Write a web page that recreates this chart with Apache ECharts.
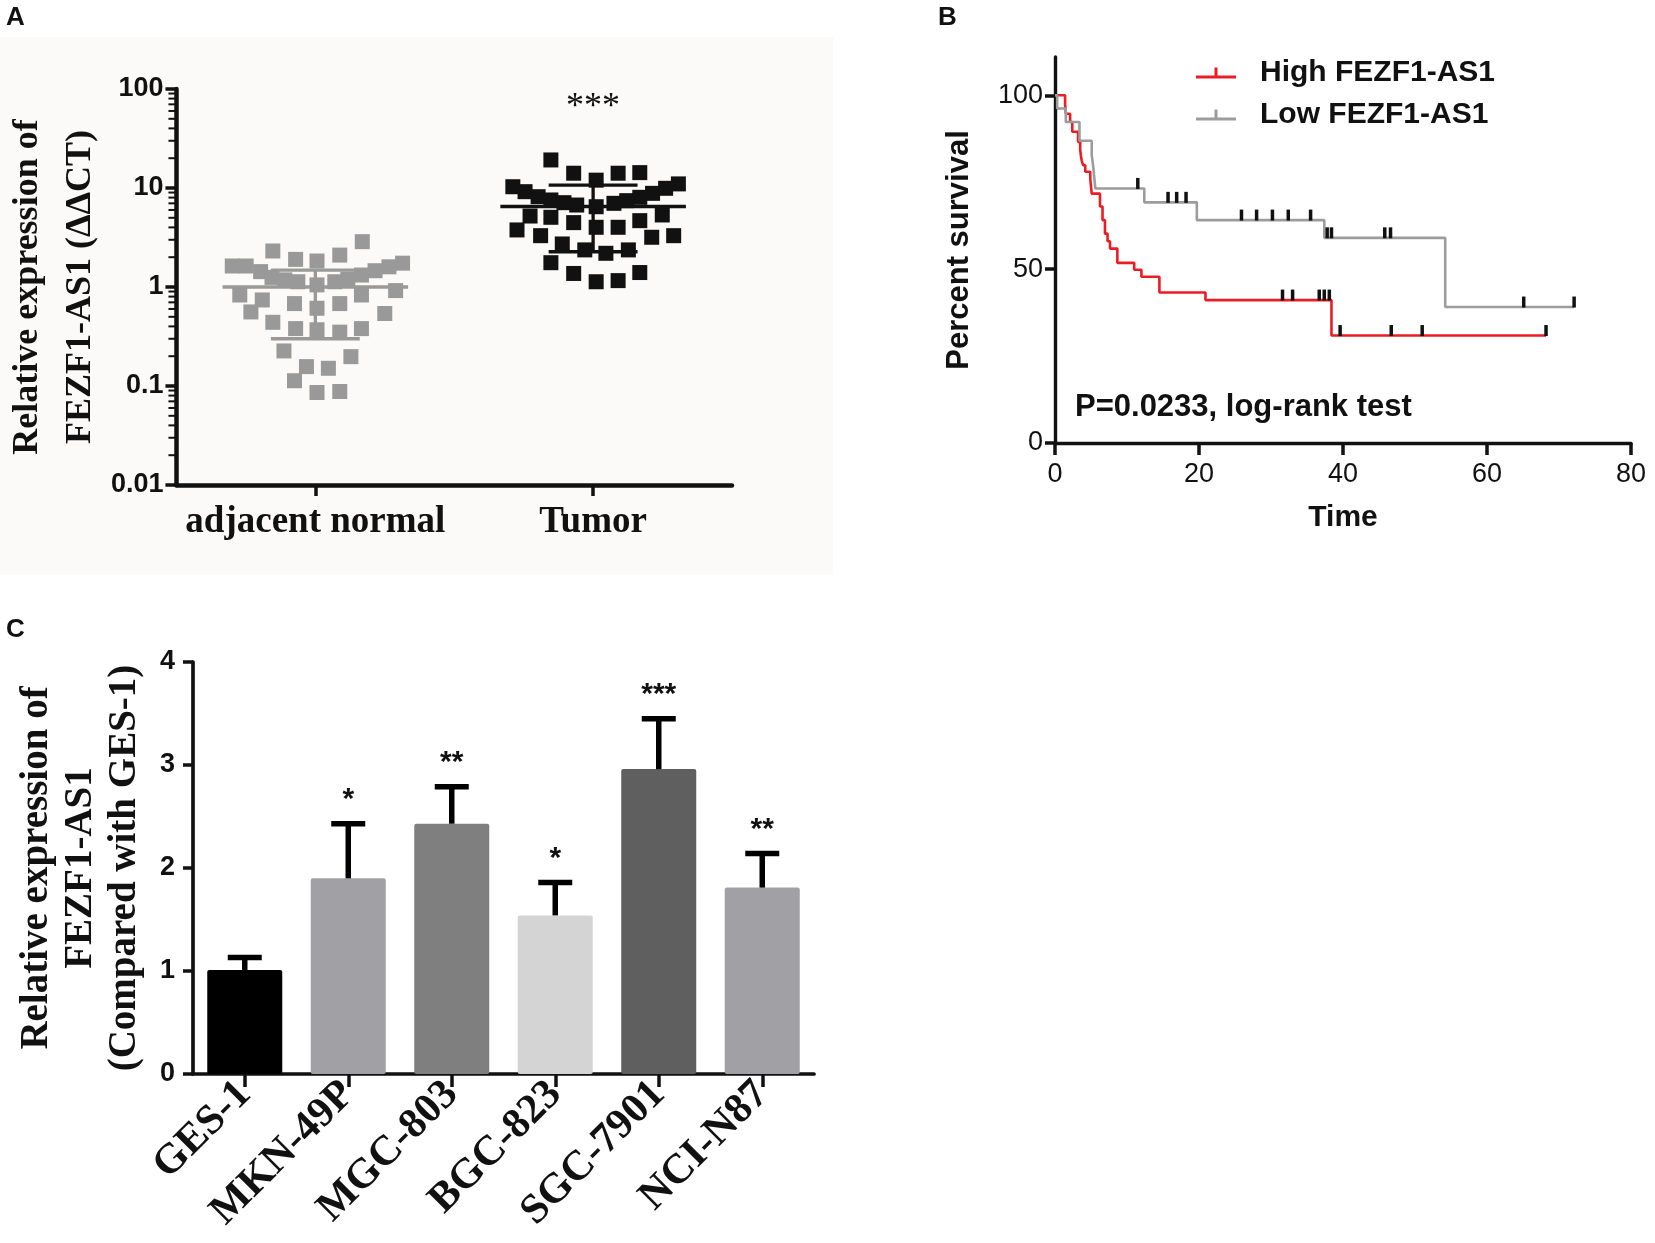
<!DOCTYPE html>
<html>
<head>
<meta charset="utf-8"/>
<title>FEZF1-AS1 expression</title>
<script src="https://cdn.jsdelivr.net/npm/echarts@6/dist/echarts.min.js"></script>
<style>
    html, body { margin: 0; padding: 0; background: #ffffff; }
    #main { width: 1655px; height: 1243px; }
</style>
</head>
<body>
<div id="main"></div>
<script>
// ---------------- panel A : scatter on log scale ----------------
var groupsA = ['adjacent normal', 'Tumor'];
var normalJitter = [0.169, -0.153, -0.071, 0.006, 0.088, -0.299, -0.249, -0.197, -0.156, -0.110, -0.063, 0.006,
    0.314, 0.265, 0.215, 0.166, 0.117, 0.070, -0.272, -0.191, -0.075, 0.006, 0.088, 0.166, 0.289, -0.232, 0.250,
    -0.153, -0.071, 0.006, 0.088, 0.166, -0.113, 0.128, -0.032, 0.047, -0.075, 0.006, 0.088];
var normalVal = [2.87, 2.31, 1.90, 1.83, 2.10, 1.63, 1.63, 1.43, 1.25, 1.18, 1.13, 1.05,
    1.74, 1.60, 1.46, 1.32, 1.20, 1.13, 0.83, 0.74, 0.68, 0.61, 0.68, 0.83, 0.92, 0.56, 0.54,
    0.44, 0.38, 0.37, 0.35, 0.38, 0.226, 0.198, 0.157, 0.151, 0.113, 0.086, 0.088];
var tumorJitter = [-0.152, -0.070, 0.011, 0.090, 0.168, -0.289, -0.245, -0.198, -0.152, -0.105, -0.059, 0.011,
    0.075, 0.121, 0.168, 0.214, 0.261, 0.307, -0.227, -0.152, -0.070, 0.011, 0.090, 0.168, 0.249, -0.274, -0.189,
    0.211, 0.290, -0.111, -0.030, 0.046, 0.127, -0.152, -0.070, 0.011, 0.090, 0.168];
var tumorVal = [19.2, 14.1, 12.0, 14.1, 14.3, 10.3, 9.18, 8.17, 7.57, 7.11, 6.73, 6.47,
    7.0, 7.45, 8.05, 8.83, 9.93, 11.0, 5.21, 5.06, 4.47, 4.01, 4.01, 4.68, 5.34, 3.77, 3.30,
    3.18, 3.30, 2.72, 2.37, 2.19, 2.37, 1.76, 1.37, 1.13, 1.16, 1.40];
var centreA = [1.0, 6.5];
var lowerA = [0.30, 2.27];
var upperA = [1.48, 10.7];
var sigA = ['', '***'];
var ticksA = [0.01, 0.1, 1, 10, 100];

// ---------------- panel B : Kaplan-Meier ----------------
var highTime = [1.4, 1.5, 2.1, 2.4, 3.2, 3.5, 3.6, 3.7, 3.9, 4.2, 4.9, 5.0, 5.1, 6.25, 6.6, 6.94, 7.3, 7.64, 8.66,
    11.0, 12.0, 14.5, 20.9, 38.4];
var highSurv = [97.5, 94.7, 92.3, 89.5, 86.6, 84.3, 82.6, 81.3, 79.9, 78.0, 76.0, 73.7, 71.7, 68.0, 64.1, 60.2, 58.0,
    55.9, 51.8, 49.8, 47.8, 43.3, 41.1, 30.9];
var highCensor = [31.6, 33.0, 36.7, 37.4, 38.1, 39.6, 46.7, 51.0, 68.2];
var highEnd = 68.2;
var lowTime = [0.3, 1.5, 3.4, 5.1, 5.3, 5.45, 5.6, 12.4, 19.7, 37.4, 54.2];
var lowSurv = [96.2, 92.3, 86.9, 82.8, 79.6, 76.4, 73.2, 69.2, 64.1, 59.0, 39.1];
var lowCensor = [11.5, 15.7, 16.9, 18.2, 25.9, 28.0, 30.2, 32.4, 35.5, 37.8, 38.4, 45.8, 46.6, 65.1, 72.1];
var lowEnd = 72.1;
var ticksB = [0, 50, 100];

// ---------------- panel C : bars ----------------
var cellLines = ['GES-1', 'MKN-49P', 'MGC-803', 'BGC-823', 'SGC-7901', 'NCI-N87'];
var cellMean = [1.01, 1.90, 2.43, 1.54, 2.96, 1.81];
var cellErr = [0.12, 0.53, 0.36, 0.32, 0.49, 0.33];
var cellSig = ['', '*', '**', '*', '***', '**'];
var cellColors = ['#000000', '#a1a1a5', '#7f7f7f', '#d4d4d4', '#5f5f5f', '#a1a1a5'];

var SERIF = '"Liberation Serif", "Times New Roman", serif';
var SANS = '"Liberation Sans", Arial, sans-serif';
var INK = '#111111';
var statsColors = ['#999999', INK];

// minor ticks of the log axis: 2..9 inside every decade
var minorA = [];
for (var d = 0; d < ticksA.length - 1; d++) {
    for (var k = 2; k <= 9; k++) {
        minorA.push([0.5, ticksA[d] * k]);
    }
}

function scatterData(jitter, vals, centre) {
    var out = [];
    for (var i = 0; i < vals.length; i++) out.push([centre + jitter[i], vals[i]]);
    return out;
}

// mean line, spread and highest point for each group of panel A
var statsA = [];
for (var g = 0; g < groupsA.length; g++) {
    var groupMax = Math.max.apply(null, g === 0 ? normalVal : tumorVal);
    statsA.push([g + 1, centreA[g], lowerA[g], upperA[g], groupMax]);
}

function kmLine(times, surv, end) {
    var pts = [[0, 100]];
    for (var i = 0; i < times.length; i++) pts.push([times[i], surv[i]]);
    pts.push([end, surv[surv.length - 1]]);
    return pts;
}

// survival of the curve at time t (value of the last step at or before t)
function survivalAt(times, surv, t) {
    var s = 100;
    for (var i = 0; i < times.length; i++) if (times[i] <= t) s = surv[i];
    return s;
}

function censorData(cens, times, surv) {
    return cens.map(function (t) { return [t, survivalAt(times, surv, t)]; });
}

function axLine(w) { return { show: true, onZero: false, lineStyle: { color: INK, width: w } }; }
function axTick(len) { return { show: true, length: len, lineStyle: { color: INK, width: 3.5 } }; }

var option = {
    backgroundColor: '#ffffff',
    animation: false,
    title: [
        { text: 'A', left: 6, top: 5, padding: 0, textStyle: { fontFamily: SANS, fontWeight: 'bold', fontSize: 26, color: INK } },
        { text: 'B', left: 938, top: 5, padding: 0, textStyle: { fontFamily: SANS, fontWeight: 'bold', fontSize: 26, color: INK } },
        { text: 'C', left: 6, top: 617, padding: 0, textStyle: { fontFamily: SANS, fontWeight: 'bold', fontSize: 26, color: INK } },
        { text: 'P=0.0233, log-rank test', left: 1075, top: 391, padding: 0,
          textStyle: { fontFamily: SANS, fontWeight: 'bold', fontSize: 31, lineHeight: 32, color: INK } }
    ],
    graphic: [
        { type: 'rect', left: 0, top: 37, z: -10, silent: true,
          shape: { width: 833, height: 538 }, style: { fill: '#fbfaf8' } }
    ],
    legend: {
        data: ['High FEZF1-AS1', 'Low FEZF1-AS1'],
        orient: 'vertical', left: 1196, top: 58, padding: 0,
        itemWidth: 40, itemHeight: 11, itemGap: 12,
        icon: 'path://M0,8h40v3H0z M18.5,0h3v8h-3z',
        textStyle: { fontFamily: SANS, fontWeight: 'bold', fontSize: 30, lineHeight: 30, color: INK, padding: [0, 0, 0, 19] },
        selectedMode: false
    },
    grid: [
        { left: 153, top: 89, width: 579, height: 396 },
        { left: 1055, top: 57, width: 576, height: 386 },
        { left: 193, top: 662, width: 621, height: 412 }
    ],
    xAxis: [
        {
            gridIndex: 0, type: 'value', min: 0.5, max: 2.5,
            splitLine: { show: false }, axisLine: axLine(4.5),
            axisTick: { show: true, length: 11, customValues: [1, 2], lineStyle: { color: INK, width: 3.5 } },
            axisLabel: {
                customValues: [1, 2], margin: 19,
                fontFamily: SERIF, fontWeight: 'bold', fontSize: 37, color: INK,
                formatter: function (v) { return groupsA[Math.round(v) - 1]; }
            }
        },
        {
            gridIndex: 1, type: 'value', min: 0, max: 80, interval: 20,
            splitLine: { show: false }, axisLine: axLine(3.4), axisTick: axTick(12),
            axisLabel: { margin: 18, fontFamily: SANS, fontSize: 27, color: INK },
            name: 'Time', nameLocation: 'middle', nameGap: 59,
            nameTextStyle: { fontFamily: SANS, fontWeight: 'bold', fontSize: 30, lineHeight: 32, color: INK }
        },
        {
            gridIndex: 2, type: 'category', data: cellLines,
            splitLine: { show: false }, axisLine: axLine(3.7),
            axisTick: { show: true, alignWithLabel: true, length: 13, lineStyle: { color: INK, width: 3.5 } },
            axisLabel: { interval: 0, rotate: 45, margin: 14, fontFamily: SERIF, fontWeight: 'bold', fontSize: 42, color: INK }
        }
    ],
    yAxis: [
        {
            gridIndex: 0, type: 'log', logBase: 10, min: 0.01, max: 100,
            splitLine: { show: false }, axisLine: axLine(4.5), axisTick: axTick(11),
            axisLabel: {
                margin: 13, fontFamily: SANS, fontWeight: 'bold', fontSize: 27, color: INK,
                formatter: function (v) { return String(Number(Number(v).toPrecision(3))); }
            },
            name: 'Relative expression of\nFEZF1-AS1 (\u0394\u0394CT)',
            nameLocation: 'middle', nameRotate: 90, nameGap: 50,
            nameTextStyle: { fontFamily: SERIF, fontWeight: 'bold', fontSize: 36, lineHeight: 53, color: INK, align: 'center' }
        },
        {
            gridIndex: 1, type: 'value', min: 0, max: 111,
            splitLine: { show: false }, axisLine: axLine(3.4),
            axisTick: { show: true, length: 10, customValues: ticksB.slice(), lineStyle: { color: INK, width: 3.5 } },
            axisLabel: { customValues: ticksB.slice(), margin: 12, fontFamily: SANS, fontSize: 27, color: INK },
            name: 'Percent survival', nameLocation: 'middle', nameRotate: 90, nameGap: 80,
            nameTextStyle: { fontFamily: SANS, fontWeight: 'bold', fontSize: 31, lineHeight: 32, color: INK }
        },
        {
            gridIndex: 2, type: 'value', min: 0, max: 4, interval: 1,
            splitLine: { show: false }, axisLine: axLine(3.7), axisTick: axTick(10),
            axisLabel: { margin: 18, fontFamily: SANS, fontWeight: 'bold', fontSize: 27, color: INK },
            name: 'Relative expression of\nFEZF1-AS1\n(Compared with GES-1)',
            nameLocation: 'middle', nameRotate: 90, nameGap: 46,
            nameTextStyle: { fontFamily: SERIF, fontWeight: 'bold', fontSize: 39, lineHeight: 44, color: INK, align: 'center' }
        }
    ],
    series: [
        // ---- A ----
        { name: 'adjacent normal', type: 'scatter', xAxisIndex: 0, yAxisIndex: 0,
          symbol: 'rect', symbolSize: 15, itemStyle: { color: '#999999', opacity: 1 },
          data: scatterData(normalJitter, normalVal, 1) },
        { name: 'Tumor', type: 'scatter', xAxisIndex: 0, yAxisIndex: 0,
          symbol: 'rect', symbolSize: 15, itemStyle: { color: INK, opacity: 1 },
          data: scatterData(tumorJitter, tumorVal, 2) },
        {
            name: 'centre and spread', type: 'custom', xAxisIndex: 0, yAxisIndex: 0, z: 5,
            encode: { x: 0, y: 1 }, data: statsA,
            renderItem: function (params, api) {
                var x = api.value(0);
                var c = statsColors[params.dataIndex];
                var mL = api.coord([x - 0.334, api.value(1)]);
                var mR = api.coord([x + 0.334, api.value(1)]);
                var lo = api.coord([x, api.value(2)]);
                var hi = api.coord([x, api.value(3)]);
                var capR = api.coord([x + 0.16, api.value(2)]);
                var capW = capR[0] - lo[0];
                var st = { stroke: c, lineWidth: 3.3 };
                var kids = [
                    { type: 'line', shape: { x1: mL[0], y1: mL[1], x2: mR[0], y2: mR[1] }, style: st },
                    { type: 'line', shape: { x1: lo[0], y1: lo[1], x2: hi[0], y2: hi[1] }, style: st },
                    { type: 'line', shape: { x1: lo[0] - capW, y1: lo[1], x2: lo[0] + capW, y2: lo[1] }, style: st },
                    { type: 'line', shape: { x1: hi[0] - capW, y1: hi[1], x2: hi[0] + capW, y2: hi[1] }, style: st }
                ];
                var s = sigA[params.dataIndex];
                if (s) {
                    var tp = api.coord([x, api.value(4)]);
                    kids.push({ type: 'text', x: tp[0], y: tp[1] - 52,
                        style: { text: s, font: 'normal 36px ' + SERIF, fill: INK, align: 'center', verticalAlign: 'middle' } });
                }
                return { type: 'group', children: kids };
            }
        },
        {
            name: 'minor ticks', type: 'custom', xAxisIndex: 0, yAxisIndex: 0, silent: true,
            encode: { x: 0, y: 1 }, data: minorA,
            renderItem: function (params, api) {
                var p = api.coord([api.value(0), api.value(1)]);
                return { type: 'line', shape: { x1: p[0] - 8, y1: p[1], x2: p[0], y2: p[1] },
                    style: { stroke: INK, lineWidth: 2 } };
            }
        },
        // ---- B ----
        { name: 'High FEZF1-AS1', type: 'line', xAxisIndex: 1, yAxisIndex: 1,
          step: 'end', symbol: 'none', color: '#ec1c24',
          lineStyle: { color: '#ec1c24', width: 2.6 },
          data: kmLine(highTime, highSurv, highEnd) },
        { name: 'Low FEZF1-AS1', type: 'line', xAxisIndex: 1, yAxisIndex: 1,
          step: 'end', symbol: 'none', color: '#9c9c9c',
          lineStyle: { color: '#9c9c9c', width: 2.6 },
          data: kmLine(lowTime, lowSurv, lowEnd) },
        { name: 'High censored', type: 'scatter', xAxisIndex: 1, yAxisIndex: 1, z: 4,
          symbol: 'rect', symbolSize: [3.5, 11], symbolOffset: [0, -5], itemStyle: { color: INK, opacity: 1 },
          data: censorData(highCensor, highTime, highSurv) },
        { name: 'Low censored', type: 'scatter', xAxisIndex: 1, yAxisIndex: 1, z: 4,
          symbol: 'rect', symbolSize: [3.5, 11], symbolOffset: [0, -5], itemStyle: { color: INK, opacity: 1 },
          data: censorData(lowCensor, lowTime, lowSurv) },
        // ---- C ----
        { name: 'expression', type: 'bar', xAxisIndex: 2, yAxisIndex: 2, barWidth: 75,
          itemStyle: { borderRadius: 2 },
          data: cellMean.map(function (v, i) { return { value: v, itemStyle: { color: cellColors[i] } }; }) },
        {
            name: 'error', type: 'custom', xAxisIndex: 2, yAxisIndex: 2, z: 3,
            encode: { x: 0, y: 1 },
            data: cellMean.map(function (v, i) { return [i, v, cellErr[i]]; }),
            renderItem: function (params, api) {
                var i = api.value(0);
                var base = api.coord([i, api.value(1)]);
                var tip = api.coord([i, api.value(1) + api.value(2)]);
                var st = { stroke: '#000000', lineWidth: 5.5 };
                var kids = [
                    { type: 'line', shape: { x1: tip[0], y1: base[1], x2: tip[0], y2: tip[1] }, style: st },
                    { type: 'line', shape: { x1: tip[0] - 17, y1: tip[1], x2: tip[0] + 17, y2: tip[1] }, style: st }
                ];
                if (cellSig[i]) {
                    kids.push({ type: 'text', x: tip[0], y: tip[1] - 24,
                        style: { text: cellSig[i], font: 'bold 30px ' + SANS, fill: INK, align: 'center', verticalAlign: 'middle' } });
                }
                return { type: 'group', children: kids };
            }
        }
    ]
};

var chart = echarts.init(document.getElementById('main'));
chart.setOption(option);
</script>
</body>
</html>
